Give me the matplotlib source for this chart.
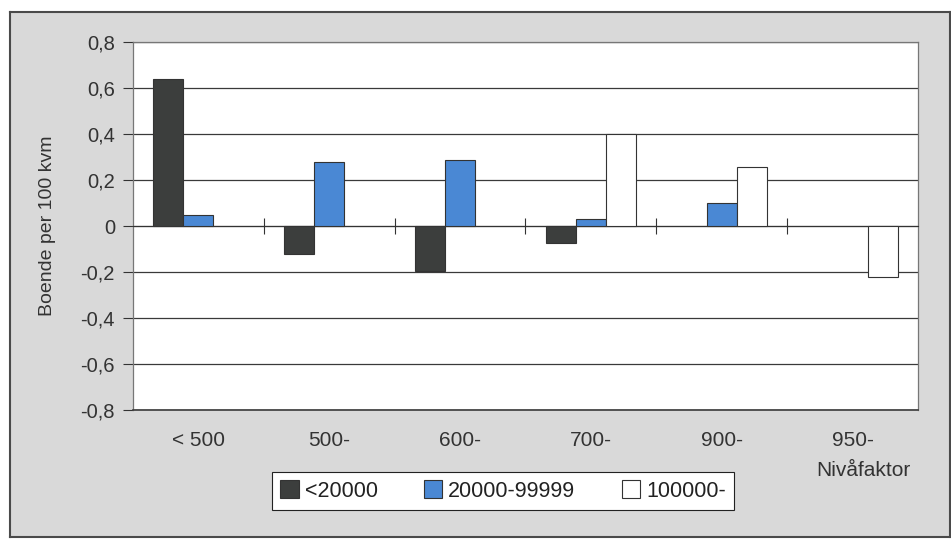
import numpy as np
import matplotlib
matplotlib.use('Agg')
import matplotlib.pyplot as plt

plt.rcParams['font.family'] = ['Liberation Sans', 'DejaVu Sans']

# data (nan = no bar)
categories = ['< 500', '500-', '600-', '700-', '900-', '950-']
series_names = ['<20000', '20000-99999', '100000-']
small = [0.64, -0.12, -0.195, -0.075, np.nan, np.nan]
medium = [0.05, 0.28, 0.285, 0.03, 0.10, np.nan]
large = [np.nan, np.nan, np.nan, 0.40, 0.255, -0.22]
y_ticks = [-0.8, -0.6, -0.4, -0.2, 0, 0.2, 0.4, 0.6, 0.8]

colors = ['#3c3e3d', '#4a88d4', '#ffffff']
W, H = 951, 539
TXT = '#333333'

fig = plt.figure(figsize=(W / 100, H / 100), dpi=100)
fig.patch.set_facecolor('white')

# grey panel with frame behind the chart
bg = fig.add_axes([10 / W, 1 - 537 / H, 940 / W, 525 / H], zorder=-5)
bg.set_facecolor('#d9d9d9')
bg.set_xticks([])
bg.set_yticks([])
for s in bg.spines.values():
    s.set_color('#4a4a4a')
    s.set_linewidth(1.5)

ax = fig.add_axes([133 / W, 1 - 410 / H, (918 - 133) / W, (410 - 42) / H], zorder=2)
ax.set_facecolor('white')

x = np.arange(len(categories))
bw = 0.23
for i, (vals, col) in enumerate(zip([small, medium, large], colors)):
    ax.bar(x + (i - 1) * bw, vals, width=bw, color=col, edgecolor='#333333',
           linewidth=0.8, label=series_names[i], zorder=3)

ax.set_xlim(-0.5, len(categories) - 0.5)
ax.set_ylim(-0.8, 0.8)
ax.set_yticks(y_ticks)
ax.set_yticklabels([('%g' % v).replace('.', ',') for v in y_ticks], fontsize=14.5, color=TXT)
ax.tick_params(axis='y', length=7, width=0.8, color='#333333', pad=6)
ax.yaxis.grid(True, color='#3a3a3a', linewidth=0.9, zorder=1)
ax.axhline(-0.8, color='#3a3a3a', linewidth=1.2, clip_on=False, zorder=4)

# category axis crosses at zero with boundary ticks
ax.spines['bottom'].set_position(('data', 0))
ax.spines['bottom'].set_color('#333333')
ax.set_xticks(np.arange(len(categories) - 1) + 0.5)
ax.set_xticklabels([])
ax.tick_params(axis='x', direction='inout', length=11, width=0.8, color='#333333')
for s in ['left', 'right', 'top']:
    ax.spines[s].set_color('#777777')
    ax.spines[s].set_linewidth(0.9)

sec = ax.secondary_xaxis(0.0)
sec.set_xticks(x)
sec.set_xticklabels(categories, fontsize=15, color=TXT)
sec.tick_params(length=0, pad=15)
sec.spines['bottom'].set_visible(False)

ax.set_ylabel('Boende per 100 kvm', fontsize=14, color=TXT)
ax.yaxis.set_label_coords((56 - 133) / 785, 0.5)

fig.text(863 / W, 1 - 471 / H, 'Nivåfaktor', fontsize=15, color=TXT,
         ha='center', va='center')

leg = fig.legend(loc='center', bbox_to_anchor=(503 / W, 1 - 491 / H), ncol=3,
                 fontsize=15.5, frameon=True, fancybox=False, edgecolor='#222222',
                 framealpha=1, handlelength=0.85, handleheight=0.85,
                 handletextpad=0.28, columnspacing=2.15, borderpad=0.4)
leg.get_frame().set_linewidth(0.8)
for t in leg.get_texts():
    t.set_color('#222222')

fig.savefig('out.png', dpi=100)
